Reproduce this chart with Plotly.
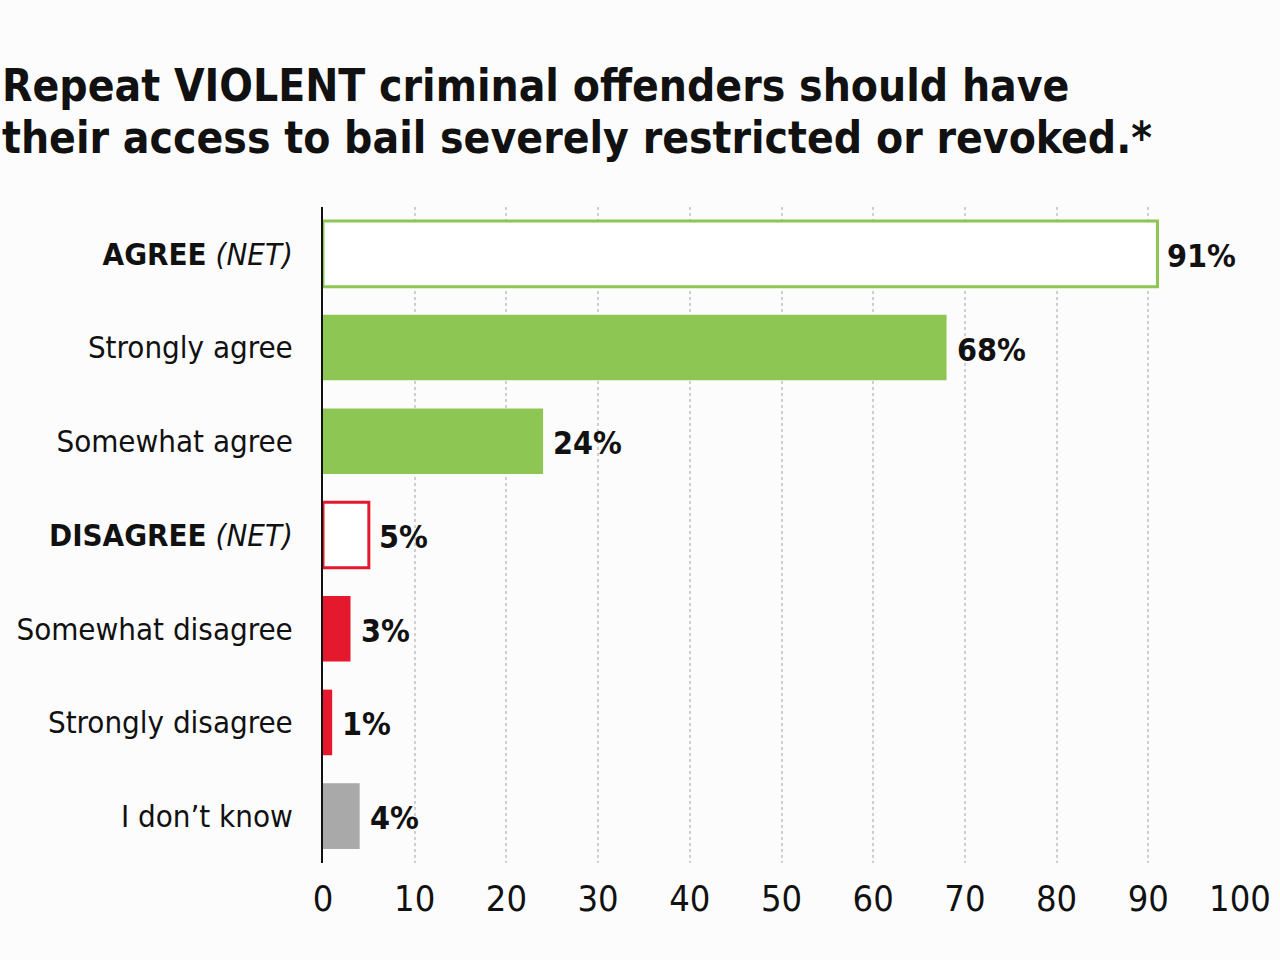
import plotly.graph_objects as go

categories = ["AGREE (NET)", "Strongly agree", "Somewhat agree", "DISAGREE (NET)",
              "Somewhat disagree", "Strongly disagree", "I don\u2019t know"]
tick_labels = ["<b>AGREE</b> <i>(NET)</i>", "Strongly agree", "Somewhat agree",
               "<b>DISAGREE</b> <i>(NET)</i>", "Somewhat disagree", "Strongly disagree",
               "I don\u2019t know"]
values = [91, 68, 24, 5, 3, 1, 4]
value_labels = ["91%", "68%", "24%", "5%", "3%", "1%", "4%"]
x_ticks = [0, 10, 20, 30, 40, 50, 60, 70, 80, 90, 100]
title_lines = ["Repeat VIOLENT criminal offenders should have",
               "their access to bail severely restricted or revoked.*"]

GREEN = "#8dc653"
RED = "#e5192e"
GRAY = "#a9a9a9"
fill_colors = ["rgba(255,255,255,1)", GREEN, GREEN, "rgba(255,255,255,1)", RED, RED, GRAY]
line_colors = [GREEN, GREEN, GREEN, RED, RED, RED, GRAY]
line_widths = [3, 0, 0, 3, 0, 0, 0]

FONT = "DejaVu Sans Condensed, Roboto, sans-serif"

fig = go.Figure()
fig.add_trace(go.Bar(
    y=categories, x=values, orientation="h",
    marker=dict(color=fill_colors, line=dict(color=line_colors, width=line_widths)),
    width=0.7, hoverinfo="skip",
))

for cat, v, lab in zip(categories, values, value_labels):
    fig.add_annotation(x=v, y=cat, text="<b>" + lab + "</b>", showarrow=False,
                       xanchor="left", xshift=8, yshift=-2,
                       font=dict(family=FONT, size=32, color="#111111"))

for i, line in enumerate(title_lines):
    fig.add_annotation(xref="paper", yref="paper", x=-323 / 917, y=1 + (207 - 86 - 52 * i) / 656,
                       xanchor="left", yanchor="middle", showarrow=False,
                       text="<b>" + line + "</b>",
                       font=dict(family=FONT, size=44, color="#111111"))

fig.update_layout(
    width=1280, height=960,
    margin=dict(l=323, r=40, t=207, b=97),
    paper_bgcolor="#fdfcfd", plot_bgcolor="#fdfcfd",
    showlegend=False,
    font=dict(family=FONT, color="#111111"),
    xaxis=dict(
        range=[0, 100], tickvals=x_ticks, ticktext=[str(t) for t in x_ticks],
        showgrid=True, gridcolor="#cfcfcf", griddash="dot", gridwidth=2,
        zeroline=False, showline=False,
        ticks="outside", ticklen=4, tickcolor="rgba(0,0,0,0)",
        tickfont=dict(family=FONT, size=36, color="#111111"),
        fixedrange=True, automargin=False,
    ),
    yaxis=dict(
        categoryorder="array", categoryarray=categories[::-1],
        tickvals=categories, ticktext=tick_labels,
        range=[-0.5, 6.5],
        autorange=False,
        showline=True, linecolor="#111111", linewidth=2,
        showgrid=False, zeroline=False,
        ticks="outside", ticklen=22, tickcolor="rgba(0,0,0,0)",
        tickfont=dict(family=FONT, size=31, color="#111111"),
        fixedrange=True, automargin=False,
    ),
)

fig.write_html("out.html")
